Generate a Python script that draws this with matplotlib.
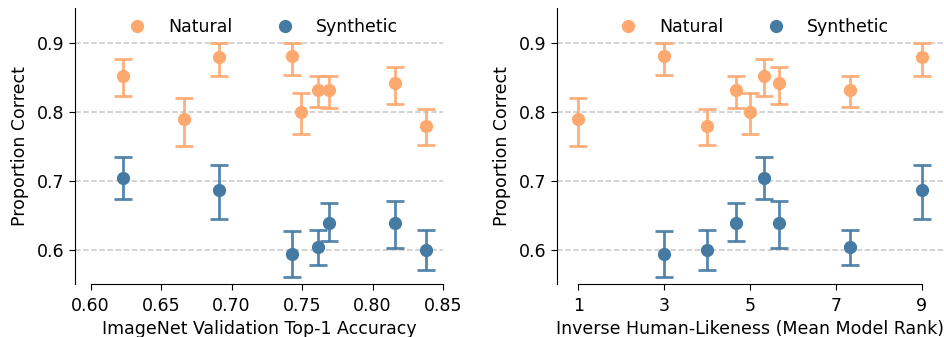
import matplotlib
matplotlib.use("Agg")
import matplotlib.pyplot as plt

# per-model results: ImageNet top-1 accuracy and mean model rank
top1_acc = [0.623, 0.666, 0.691, 0.743, 0.749, 0.761, 0.769, 0.816, 0.838]
mean_rank = [5.33, 1.0, 9.0, 3.0, 5.0, 7.33, 4.67, 5.67, 4.0]

# proportion correct with lower / upper interval bounds
nat_mean = [0.852, 0.789, 0.879, 0.880, 0.800, 0.832, 0.831, 0.841, 0.779]
nat_lo = [0.823, 0.750, 0.852, 0.853, 0.768, 0.807, 0.805, 0.811, 0.752]
nat_hi = [0.876, 0.820, 0.900, 0.900, 0.827, 0.852, 0.852, 0.864, 0.804]

# two models have no synthetic result
syn_mean = [0.704, None, 0.686, 0.594, None, 0.604, 0.639, 0.639, 0.599]
syn_lo = [0.673, None, 0.644, 0.560, None, 0.578, 0.612, 0.603, 0.570]
syn_hi = [0.734, None, 0.723, 0.627, None, 0.628, 0.667, 0.671, 0.629]

NAT_COL = "#fda86e"
SYN_COL = "#457aa2"
FS = 12.5

fig = plt.figure(figsize=(9.45, 3.37), dpi=100)
ax1 = fig.add_axes([0.0794, 0.157, 0.3894, 0.819])
ax2 = fig.add_axes([0.5894, 0.157, 0.4086, 0.819])


def draw(ax, xs, mean, lo, hi, color, label):
    keep = [i for i in range(len(xs)) if mean[i] is not None]
    x = [xs[i] for i in keep]
    y = [mean[i] for i in keep]
    err = [[mean[i] - lo[i] for i in keep], [hi[i] - mean[i] for i in keep]]
    ax.errorbar(x, y, yerr=err, fmt="none", ecolor=color, elinewidth=2,
                capsize=6.5, capthick=2, alpha=0.9, zorder=2)
    ax.plot(x, y, "o", color=color, markersize=8.5, label=label, zorder=3,
            linestyle="none")


for ax, xs in [(ax1, top1_acc), (ax2, mean_rank)]:
    draw(ax, xs, nat_mean, nat_lo, nat_hi, NAT_COL, "Natural")
    draw(ax, xs, syn_mean, syn_lo, syn_hi, SYN_COL, "Synthetic")
    ax.set_ylim(0.55, 0.95)
    ax.set_yticks([0.6, 0.7, 0.8, 0.9])
    ax.yaxis.grid(True, linestyle="--", color="#c8c8c8", linewidth=1.1)
    ax.set_axisbelow(True)
    ax.spines["top"].set_visible(False)
    ax.spines["right"].set_visible(False)
    ax.tick_params(labelsize=FS, length=4)
    ax.tick_params(axis="x", pad=5)
    ax.set_ylabel("Proportion Correct", fontsize=FS, labelpad=6)
    ax.legend(loc="upper center", ncol=2, frameon=False, fontsize=FS,
              bbox_to_anchor=(0.5, 1.02))

ax1.set_xlim(0.589, 0.85)
ax1.set_xticks([0.60, 0.65, 0.70, 0.75, 0.80, 0.85])
ax1.spines["bottom"].set_bounds(0.60, 0.85)
ax1.set_xlabel("ImageNet Validation Top-1 Accuracy", fontsize=FS)

ax2.set_xlim(0.5, 9.5)
ax2.set_xticks([1, 3, 5, 7, 9])
ax2.spines["bottom"].set_bounds(1, 9)
ax2.set_xlabel("Inverse Human-Likeness (Mean Model Rank)", fontsize=FS)

fig.savefig("out.png", dpi=100)
